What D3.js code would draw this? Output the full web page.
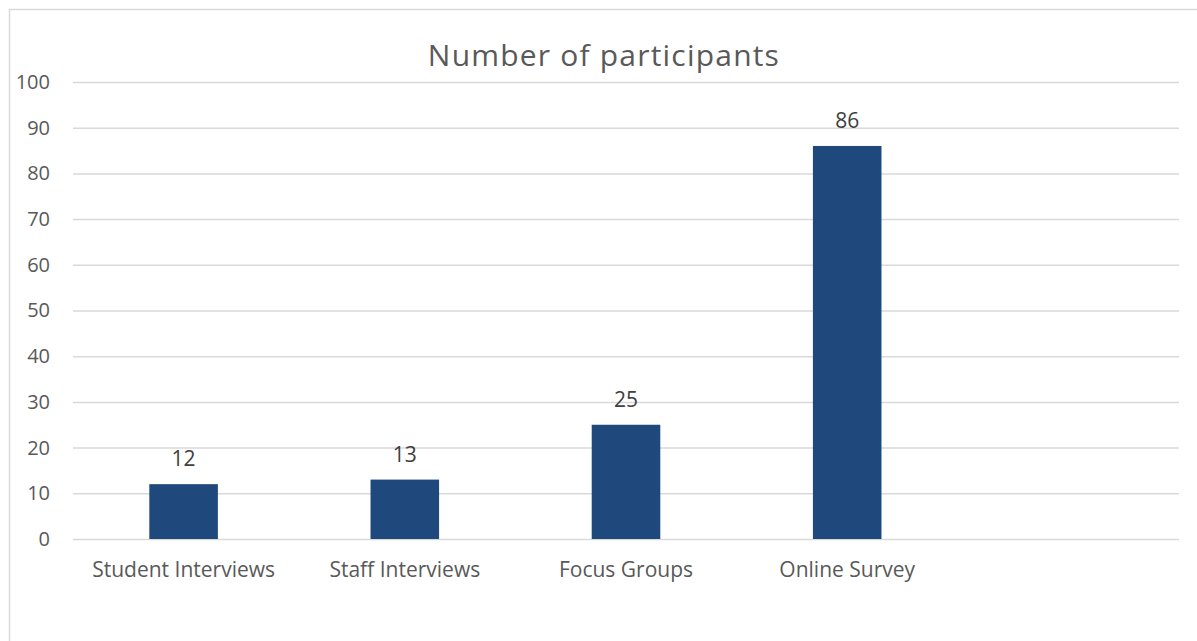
<!DOCTYPE html>
<html>
<head>
<meta charset="utf-8">
<script src="https://cdn.jsdelivr.net/npm/d3@7"></script>
<style>
  html, body { margin: 0; padding: 0; background: #fff; }
  svg { display: block; font-family: "Open Sans", sans-serif; }
</style>
</head>
<body>
<svg id="chart" width="1197" height="641"></svg>
<script>
// Participants per research method
const categories = ["Student Interviews", "Staff Interviews", "Focus Groups", "Online Survey", ""];
const participants = [12, 13, 25, 86, null];
const yTicks = [0, 10, 20, 30, 40, 50, 60, 70, 80, 90, 100];
const chartTitle = "Number of participants";

const svg = d3.select("#chart");
const fontFamily = "'Open Sans', sans-serif";
const textColor = "#595959";
const gridColor = "#d9d9d9";
const barColor = "#1f497d";

// chart-area border
svg.append("rect")
  .attr("x", 9.5).attr("y", 9.5)
  .attr("width", 1200).attr("height", 700)
  .attr("fill", "#fff")
  .attr("stroke", gridColor).attr("stroke-width", 1.5);

const plot = { left: 73, right: 1179, top: 82, bottom: 539 };

const x = d3.scaleBand()
  .domain(d3.range(categories.length))
  .range([plot.left, plot.right])
  .paddingInner(0.69)
  .paddingOuter(0.345);

const y = d3.scaleLinear().domain([0, 100]).range([plot.bottom, plot.top]);

// gridlines and y labels
const yAxis = d3.axisLeft(y)
  .tickValues(yTicks)
  .tickSize(-(plot.right - plot.left))
  .tickPadding(23);

const gy = svg.append("g")
  .attr("transform", `translate(${plot.left},0)`)
  .call(yAxis);
gy.select(".domain").remove();
gy.selectAll(".tick line").attr("stroke", gridColor).attr("stroke-width", 1.5);
gy.selectAll(".tick text")
  .attr("fill", textColor)
  .attr("font-size", 20)
  .attr("font-family", fontFamily);

// bars
const valid = participants.map((v, i) => ({ v, i })).filter(d => d.v != null);
svg.append("g").selectAll("rect")
  .data(valid)
  .join("rect")
  .attr("x", d => x(d.i))
  .attr("y", d => y(d.v))
  .attr("width", x.bandwidth())
  .attr("height", d => y(0) - y(d.v))
  .attr("fill", barColor);

// value labels
svg.append("g").selectAll("text")
  .data(valid)
  .join("text")
  .attr("x", d => x(d.i) + x.bandwidth() / 2)
  .attr("y", d => y(d.v) - 18)
  .attr("text-anchor", "middle")
  .attr("fill", "#404040")
  .attr("font-size", 21)
  .attr("font-family", fontFamily)
  .text(d => d.v);

// category labels
const xAxis = d3.axisBottom(x)
  .tickFormat(i => categories[i])
  .tickSize(0);
const gx = svg.append("g")
  .attr("transform", `translate(0,${plot.bottom})`)
  .call(xAxis);
gx.select(".domain").remove();
gx.selectAll(".tick text")
  .attr("y", 38)
  .attr("dy", null)
  .attr("fill", textColor)
  .attr("font-size", 21)
  .attr("font-family", fontFamily);

// title
svg.append("text")
  .attr("x", 604)
  .attr("y", 66)
  .attr("text-anchor", "middle")
  .attr("fill", textColor)
  .attr("font-size", 30)
  .attr("letter-spacing", 1.2)
  .attr("font-family", fontFamily)
  .text(chartTitle);
</script>
</body>
</html>
